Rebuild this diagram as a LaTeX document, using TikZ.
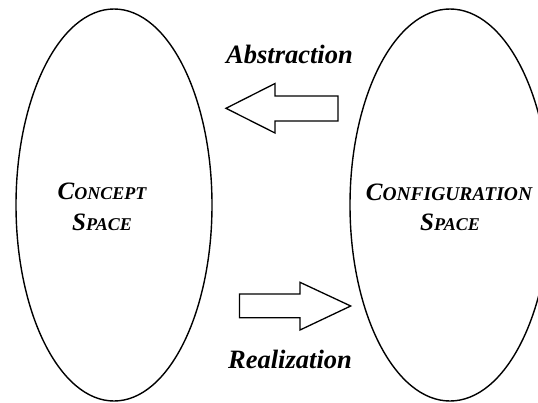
\documentclass[tikz,border=0pt]{standalone}
\usepackage{fontspec}
\setmainfont{Liberation Serif}
\usetikzlibrary{shapes.geometric}
\newcommand\mysmallcaps[1]{{\fontsize{18}{20}\selectfont #1}}
\newcommand\mywidecaps[1]{{\fontsize{19.5}{20}\selectfont #1}}
\begin{document}
\begin{tikzpicture}[x=1pt,y=-1pt,
  space/.style={draw, ellipse, inner sep=0pt, line width=1.4pt},
  txt/.style={font=\bfseries\itshape\fontsize{25}{30}\selectfont, inner sep=0pt, anchor=base},
  lbl/.style={font=\bfseries\itshape\fontsize{26.5}{30}\selectfont, inner sep=0pt, anchor=base},
  bigarrow/.style={draw, line width=1.3pt, line join=miter}]
\useasboundingbox (0,0) rectangle (538,402);
\clip (0,0) rectangle (538,402);
\node[space, minimum width=196pt, minimum height=392pt] (cs) at (114,205) {};
\node[space, minimum width=200pt, minimum height=392pt] (gs) at (450,205) {};
\node[txt] (cs1) at (102,199.5) {C\mysmallcaps{ONCEPT}};
\node[txt] (cs2) at (102,230) {S\mysmallcaps{PACE}};
\node[txt] (gs1) at (449,200) {C\mywidecaps{ONFIGURATION}};
\node[txt] (gs2) at (450,230) {S\mysmallcaps{PACE}};
\node[lbl] (abs) at (289.5,63.3) {Abstraction};
\node[lbl] (rea) at (290,368) {Realization};
\draw[bigarrow] (338,96) -- (275,96) -- (275,83.5) -- (226,108.3) -- (275,133) -- (275,121) -- (338,121) -- cycle;
\draw[bigarrow] (239.5,294) -- (300,294) -- (300,282.3) -- (350.7,306) -- (300,330) -- (300,317.7) -- (239.5,317.7) -- cycle;
\end{tikzpicture}
\end{document}
